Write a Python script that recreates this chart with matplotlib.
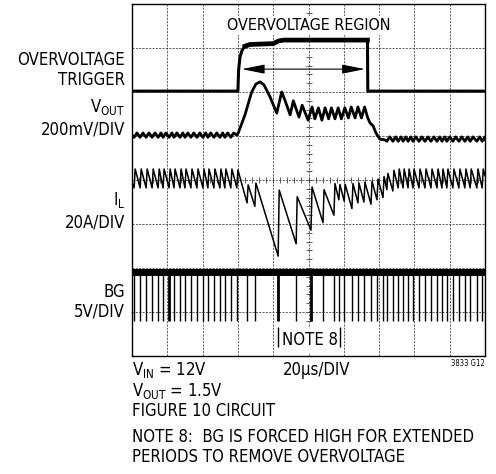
import numpy as np
import matplotlib
matplotlib.use("Agg")
import matplotlib.pyplot as plt
import matplotlib.font_manager as fm

# -------------------------------
# Font (condensed look of the datasheet)
# -------------------------------
names = {f.name for f in fm.fontManager.ttflist}
if "Liberation Sans Narrow" in names:
    fam, stretch = "Liberation Sans Narrow", "normal"
else:
    fam, stretch = "DejaVu Sans", "condensed"
plt.rcParams["font.family"] = [fam, "DejaVu Sans"]
plt.rcParams["font.stretch"] = stretch
plt.rcParams["mathtext.fontset"] = "custom"
plt.rcParams["mathtext.rm"] = fam

# -------------------------------
# Data (scope divisions: x 0..10, y 0..8)
# -------------------------------
# BG low pulses (switch cycles), x position in divisions
bg_pulses = [0.06, 0.23, 0.40, 0.57, 0.74, 0.88, 1.05, 1.19, 1.36, 1.50,
             1.67, 1.84, 2.01, 2.15, 2.32, 2.49, 2.63, 2.80, 2.97,
             3.26, 3.48, 4.14, 4.65, 5.07, 5.41, 5.72, 5.86, 6.01, 6.23,
             6.40, 6.57, 6.77, 6.94, 7.11, 7.22, 7.39,
             7.54, 7.68, 7.82, 7.96, 8.13, 8.30, 8.47, 8.64, 8.78, 8.92,
             9.09, 9.26, 9.43, 9.58, 9.77, 9.92]
bg_wide = [1.05, 4.14, 5.07]
bg_high = 1.92
bg_low = 0.80

# inductor current: value just before each pulse and just after it
il_valley = [3.82] * 19 + [3.48, 3.40, 2.27, 2.55, 2.86, 3.03, 3.20, 3.55, 3.52,
                           3.35, 3.48, 3.50, 3.45, 3.55, 3.60, 3.78, 3.75] + [3.82] * 16
il_peak = [4.25] * 18 + [4.23] + [3.89, 3.93, 3.77, 3.62, 3.84, 3.78, 3.92, 3.90, 3.90,
                                  3.92, 3.93, 3.95, 3.97, 4.02, 4.08, 4.15, 4.22] + [4.25] * 16
il_start, il_end = 3.95, 4.10

# overvoltage trigger
trig_x = [0, 3.00, 3.02, 3.06, 3.12, 3.20, 3.34, 4.00, 4.15, 4.30, 6.67, 6.68, 10]
trig_y = [6.02, 6.02, 6.50, 6.80, 6.95, 7.04, 7.08, 7.10, 7.16, 7.18, 7.18, 6.02, 6.02]

# VOUT during the overvoltage event
vout_base_pre = 5.02
vout_base_post = 4.93
vout_x = [2.97, 3.01, 3.20, 3.39, 3.51, 3.63, 3.74, 3.91, 4.10, 4.24, 4.33, 4.48,
          4.57, 4.73, 4.82, 4.99, 5.10, 5.18, 5.28, 5.38, 5.47, 5.57, 5.65, 5.75,
          5.84, 5.93, 6.03, 6.13, 6.21, 6.32, 6.40, 6.50, 6.59, 6.67, 6.74, 6.83,
          6.91, 7.02, 7.17]
vout_y = [5.02, 5.07, 5.48, 6.00, 6.18, 6.23, 6.16, 5.89, 5.52, 6.00, 5.82, 5.48,
          5.80, 5.43, 5.70, 5.36, 5.66, 5.39, 5.64, 5.36, 5.64, 5.39, 5.64, 5.39,
          5.64, 5.39, 5.64, 5.41, 5.66, 5.41, 5.66, 5.41, 5.66, 5.43, 5.30, 5.23,
          5.07, 4.93, 4.91]

arrow_x = [3.11, 6.60]
arrow_y = 6.52

# -------------------------------
# Figure
# -------------------------------
W, H = 496, 474
fig = plt.figure(figsize=(W / 100, H / 100), dpi=100)
ax = fig.add_axes([132 / W, 1 - 356 / H, (485 - 132) / W, (356 - 4) / H])
ax.set_xlim(0, 10)
ax.set_ylim(0, 8)
ax.set_xticks([])
ax.set_yticks([])
for s in ax.spines.values():
    s.set_linewidth(1.0)
    s.set_color("black")

# graticule
for i in range(1, 10):
    ax.axvline(i, color="#444444", lw=0.6, ls=(0, (2.5, 1.5)), zorder=1)
for j in range(1, 8):
    ax.axhline(j, color="#444444", lw=0.6, ls=(0, (2.5, 1.5)), zorder=1)
ax.plot([5] * 41, np.linspace(0, 8, 41), ls="none", marker="_", ms=4, mew=0.6, color="#444444", zorder=1)
ax.plot(np.linspace(0, 10, 51), [4] * 51, ls="none", marker="|", ms=4, mew=0.6, color="#444444", zorder=1)

# trigger trace
ax.plot(trig_x, trig_y, color="black", lw=2.2, zorder=3)
ax.plot(trig_x[5:11], trig_y[5:11], color="black", lw=3.4, zorder=3)

# arrow
ax.annotate("", xy=(arrow_x[0], arrow_y), xytext=(arrow_x[1], arrow_y),
            arrowprops=dict(arrowstyle="<|-|>,head_length=1.0,head_width=0.2",
                            lw=0.8, color="black", mutation_scale=14, shrinkA=0, shrinkB=0),
            zorder=3)

# VOUT trace: ripple on the flat parts follows the switch cycles
vx, vy = [0.0], [vout_base_pre]
for p in bg_pulses:
    if p < 2.97:
        vx += [p, p + 0.08]
        vy += [vout_base_pre - 0.05, vout_base_pre + 0.05]
vx += vout_x
vy += vout_y
for p in bg_pulses:
    if p > 7.2:
        vx += [p, p + 0.08]
        vy += [vout_base_post - 0.05, vout_base_post + 0.05]
vx.append(10)
vy.append(vout_base_post)
ax.plot(vx, vy, color="black", lw=2.0, zorder=3)

# IL trace
ix, iy = [0.0], [il_start]
for p, lo, hi in zip(bg_pulses, il_valley, il_peak):
    ix += [p, p + 0.03]
    iy += [lo, hi]
ix.append(10)
iy.append(il_end)
ax.plot(ix, iy, color="black", lw=1.1, zorder=3)

# BG trace
ax.plot([0, 10], [bg_high, bg_high], color="black", lw=5, solid_capstyle="butt", zorder=3)
thin = [p for p in bg_pulses if p not in bg_wide]
ax.vlines(thin, bg_low, bg_high, color="black", lw=1.0, zorder=3)
ax.vlines(bg_wide, bg_low, bg_high, color="black", lw=2.0, zorder=3)

# in-plot labels
ax.text(5.01, 7.41, "OVERVOLTAGE REGION", ha="center", va="baseline", fontsize=11.5,
        bbox=dict(facecolor="white", edgecolor="none", pad=1.5), zorder=4)
ax.text(5.04, 0.25, "NOTE 8", ha="center", va="baseline", fontsize=12,
        bbox=dict(facecolor="white", edgecolor="none", pad=2.5), zorder=4)
ax.vlines([4.14, 5.90], 0.2, 0.66, color="black", lw=1.0, zorder=5)


def ftxt(x, y, s, **kw):
    fig.text(x / W, 1 - y / H, s, va="baseline", fontsize=12, **kw)


# channel labels
ftxt(125, 65, "OVERVOLTAGE", ha="right")
ftxt(125, 85, "TRIGGER", ha="right")
ftxt(125, 112, r"V$_\mathregular{OUT}$", ha="right")
ftxt(125, 135, "200mV/DIV", ha="right")
ftxt(125, 205, r"I$_\mathregular{L}$", ha="right")
ftxt(125, 227, "20A/DIV", ha="right")
ftxt(125, 297, "BG", ha="right")
ftxt(125, 317, "5V/DIV", ha="right")

# footer
ftxt(132, 375, r"V$_\mathregular{IN}$ = 12V", ha="left")
ftxt(283, 375, "20µs/DIV", ha="left")
fig.text(485 / W, 1 - 366 / H, "3833 G12", ha="right", va="baseline", fontsize=5.5)
ftxt(132, 396, r"V$_\mathregular{OUT}$ = 1.5V", ha="left")
ftxt(132, 416, "FIGURE 10 CIRCUIT", ha="left")
ftxt(132, 442, "NOTE 8:  BG IS FORCED HIGH FOR EXTENDED", ha="left")
ftxt(132, 462, "PERIODS TO REMOVE OVERVOLTAGE", ha="left")

fig.savefig("out.png", dpi=100, facecolor="white")
